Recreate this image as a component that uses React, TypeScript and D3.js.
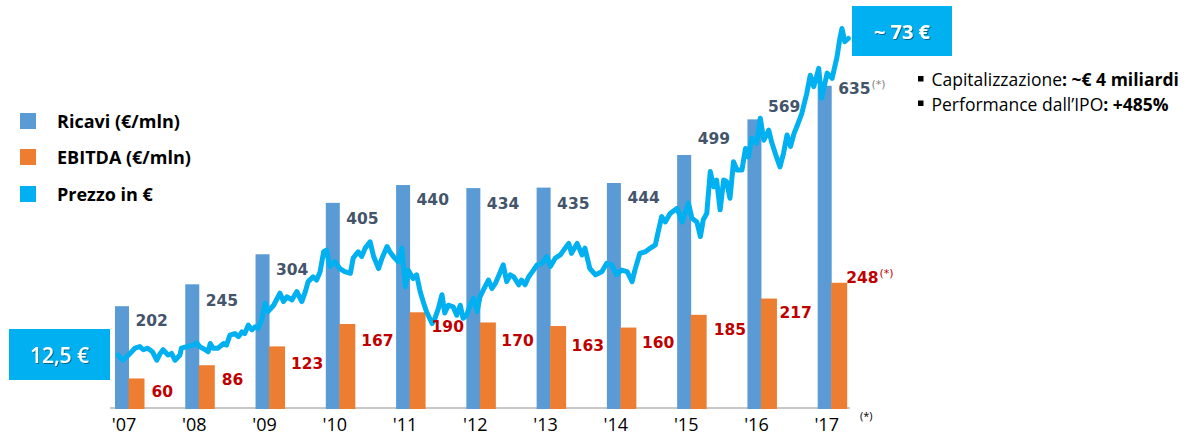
import React from 'react';
import * as d3 from 'd3';

const years = ['2007', '2008', '2009', '2010', '2011', '2012', '2013', '2014', '2015', '2016', '2017'];
const tickLabels = ["'07", "'08", "'09", "'10", "'11", "'12", "'13", "'14", "'15", "'16", "'17"];
const revenue = [202, 245, 304, 405, 440, 434, 435, 444, 499, 569, 635];
const ebitda = [60, 86, 123, 167, 190, 170, 163, 160, 185, 217, 248];

// Share price (EUR), by decimal year
const priceDates = [
  2007.55, 2007.62, 2007.70, 2007.79, 2007.86, 2007.91, 2007.97, 2008.04, 2008.10, 2008.15,
  2008.19, 2008.26, 2008.31, 2008.36, 2008.43, 2008.45, 2008.53, 2008.62, 2008.67, 2008.71,
  2008.79, 2008.83, 2008.86, 2008.90, 2008.97, 2009.05, 2009.09, 2009.14, 2009.21, 2009.26,
  2009.31, 2009.35, 2009.40, 2009.45, 2009.50, 2009.54, 2009.59, 2009.64, 2009.68, 2009.76,
  2009.85, 2009.90, 2009.95, 2010.02, 2010.09, 2010.16, 2010.21, 2010.25, 2010.32, 2010.37,
  2010.42, 2010.47, 2010.51, 2010.56, 2010.63, 2010.70, 2010.77, 2010.85, 2010.89, 2010.96,
  2011.01, 2011.06, 2011.13, 2011.18, 2011.25, 2011.30, 2011.37, 2011.41, 2011.46, 2011.53,
  2011.58, 2011.63, 2011.67, 2011.74, 2011.79, 2011.84, 2011.89, 2011.93, 2012.01, 2012.05,
  2012.10, 2012.15, 2012.19, 2012.24, 2012.31, 2012.36, 2012.41, 2012.45, 2012.50, 2012.55,
  2012.60, 2012.65, 2012.69, 2012.76, 2012.81, 2012.86, 2012.91, 2012.98, 2013.02, 2013.07,
  2013.12, 2013.17, 2013.24, 2013.28, 2013.33, 2013.38, 2013.45, 2013.50, 2013.57, 2013.64,
  2013.69, 2013.76, 2013.83, 2013.90, 2013.95, 2013.99, 2014.07, 2014.14, 2014.18, 2014.25,
  2014.33, 2014.42, 2014.49, 2014.56, 2014.63, 2014.70, 2014.78, 2014.85, 2014.89, 2014.96,
  2015.04, 2015.11, 2015.18, 2015.22, 2015.27, 2015.32, 2015.39, 2015.49, 2015.56, 2015.65,
  2015.70, 2015.77, 2015.82, 2015.86, 2015.91, 2015.96, 2016.01, 2016.05, 2016.10, 2016.15,
  2016.19, 2016.24, 2016.29, 2016.34, 2016.41, 2016.46, 2016.50, 2016.55, 2016.62, 2016.67,
  2016.72, 2016.79, 2016.83, 2016.90, 2016.95, 2017.00, 2017.05, 2017.10, 2017.15, 2017.19,
  2017.26, 2017.33, 2017.38, 2017.43, 2017.50, 2017.54, 2017.62, 2017.69, 2017.76, 2017.80,
  2017.83, 2017.87, 2017.92,
];
const prices = [
  12.5, 11.5, 12.5, 13.8, 14.1, 13.5, 13.8, 13.1, 11.5, 12.8,
  13.5, 12.5, 12.8, 11.5, 12.5, 13.8, 14.1, 14.4, 14.8, 14.1,
  13.5, 13.1, 14.7, 13.8, 13.8, 14.7, 14.4, 16.3, 16.6, 16.0,
  16.9, 16.6, 18.2, 17.3, 17.9, 17.6, 19.2, 22.4, 20.8, 22.0,
  24.3, 22.7, 23.6, 23.0, 24.6, 22.7, 24.6, 26.5, 27.4, 26.8,
  28.4, 32.2, 32.5, 29.4, 30.3, 29.0, 28.4, 28.1, 31.0, 32.2,
  31.3, 32.9, 34.1, 31.3, 29.0, 31.0, 33.2, 32.2, 31.3, 30.3,
  32.9, 25.5, 28.7, 27.1, 27.8, 24.6, 22.4, 20.8, 18.5, 19.5,
  21.4, 24.0, 20.5, 22.0, 21.7, 20.1, 22.0, 19.5, 20.1, 22.0,
  23.3, 20.8, 23.6, 25.5, 26.8, 25.2, 26.2, 28.4, 29.7, 26.5,
  27.8, 27.4, 25.9, 26.8, 25.9, 27.4, 28.7, 29.7, 30.0, 31.3,
  29.4, 31.0, 31.6, 32.9, 33.8, 31.9, 33.8, 31.6, 32.9, 29.0,
  27.8, 28.4, 30.0, 29.7, 27.8, 28.7, 28.4, 26.5, 28.7, 31.9,
  32.2, 32.9, 33.5, 36.0, 38.9, 37.9, 39.5, 40.5, 37.9, 41.5,
  38.6, 37.9, 35.1, 38.3, 39.5, 47.5, 44.6, 45.9, 40.2, 45.9,
  45.6, 42.4, 49.4, 47.8, 47.8, 51.9, 50.3, 53.9, 52.9, 57.7,
  53.5, 55.4, 53.2, 50.3, 48.4, 51.0, 54.5, 52.3, 54.8, 56.1,
  58.6, 62.4, 65.9, 63.7, 67.2, 61.5, 66.3, 65.3, 69.4, 72.9,
  74.8, 72.3, 72.9,
];

const legendItems = ['Ricavi (€/mln)', 'EBITDA (€/mln)', 'Prezzo in €'];
const startPriceLabel = '12,5 €';
const endPriceLabel = '~ 73 €';
const bulletPlain = ['Capitalizzazione', 'Performance dall\u2019IPO'];
const bulletBold = ['~€ 4 miliardi', '+485%'];

// layout offsets for the value labels (label centre relative to bar top)
const revLabelDy = [14, 16, 15, 16, 14, 15, 16, 14, -17, -13, 3];
const ebitdaLabelDy = [12.5, 14, 17.5, 16, 14.5, 17.5, 19.5, 15, 15, 14, -5.5];
const ebitdaLabelDx = [36.5, 36.5, 35.5, 35.5, 35.5, 35, 35, 35, 36.5, 32, 28.5];

const C_BLUE = '#5B9BD5';
const C_ORANGE = '#ED7D31';
const C_PRICE = '#00B0F0';
const C_REVTXT = '#44546A';
const C_EBTXT = '#C00000';
const FONT = "'Open Sans', sans-serif";
const NUMFONT = "'DejaVu Sans', Verdana, sans-serif";

export default function App() {
  const W = 1199, H = 436;
  const baseline = 409;

  const xBand = d3.scaleBand<string>()
    .domain(years)
    .range([115, 115 + 70.27 * 11])
    .paddingInner(0.58)
    .paddingOuter(0.29)
    .align(0);

  const yBar = d3.scaleLinear().domain([0, 800]).range([baseline, baseline - 800 * 0.509]);

  const xTime = d3.scaleLinear().domain([2007.55, 2017.92]).range([118, 848.3]);
  const yPrice = d3.scaleLinear().domain([0, 80]).range([420.5, 420.5 - 80 * 5.24]);

  const line = d3.line<number>()
    .x((_, i) => xTime(priceDates[i]))
    .y((d) => yPrice(d))
    .curve(d3.curveLinear);

  const blueW = 14;
  const orangeX = 13.5;
  const orangeW = 16;
  const legendColors = [C_BLUE, C_ORANGE, C_PRICE];
  const legendY = [121, 157, 194];

  return (
    <svg width={W} height={H} style={{ position: 'absolute', left: 0, top: 0, background: '#fff' }}>
      <defs>
        <filter id="tshadow" x="-20%" y="-20%" width="140%" height="140%">
          <feDropShadow dx="1" dy="1" stdDeviation="0.6" floodColor="#000" floodOpacity="0.45" />
        </filter>
      </defs>

      {/* axis line */}
      <line x1={110} x2={850} y1={408} y2={408} stroke="#C8C8C8" strokeWidth={2} />

      {/* bars */}
      {years.map((y, i) => {
        const x0 = xBand(y)!;
        return (
          <g key={y}>
            <rect x={x0} y={yBar(revenue[i])} width={blueW} height={baseline - yBar(revenue[i])} fill={C_BLUE} />
            <rect x={x0 + orangeX} y={yBar(ebitda[i])} width={orangeW} height={baseline - yBar(ebitda[i])} fill={C_ORANGE} />
          </g>
        );
      })}

      {/* price line */}
      <path d={line(prices) || ''} fill="none" stroke={C_PRICE} strokeWidth={5} strokeLinejoin="round" strokeLinecap="round" />

      {/* value labels */}
      {years.map((y, i) => {
        const x0 = xBand(y)!;
        const last = i === years.length - 1;
        return (
          <g key={'lab' + y} fontFamily={NUMFONT} fontWeight="bold" fontSize={15.5}>
            <text x={x0 + 20.5} y={yBar(revenue[i]) + revLabelDy[i] + 5.6} fill={C_REVTXT}>
              {revenue[i]}
              {last && <tspan fontSize={11} fontWeight="normal" fill="#7F7F7F" dy={-6} dx={1}>(*)</tspan>}
            </text>
            <text x={x0 + ebitdaLabelDx[i]} y={yBar(ebitda[i]) + ebitdaLabelDy[i] + 5.6} fill={C_EBTXT}>
              {ebitda[i]}
              {last && <tspan fontSize={11} fontWeight="normal" fill={C_EBTXT} dy={-6} dx={1}>(*)</tspan>}
            </text>
          </g>
        );
      })}

      {/* x tick labels */}
      {years.map((y, i) => (
        <text key={'t' + y} x={xBand(y)! + 9} y={430.5} textAnchor="middle" fontFamily={FONT} fontSize={18} fill="#000">
          {tickLabels[i]}
        </text>
      ))}
      <text x={860} y={420} fontFamily={FONT} fontSize={11} fill="#000">(*)</text>

      {/* legend */}
      {legendItems.map((t, i) => (
        <g key={t}>
          <rect x={20} y={legendY[i] - 8} width={16} height={16} fill={legendColors[i]} />
          <text x={57} y={legendY[i] + 6.8} fontFamily={FONT} fontWeight="bold" fontSize={18} fill="#000">{t}</text>
        </g>
      ))}

      {/* callouts */}
      <rect x={9} y={329} width={101} height={51} fill={C_PRICE} />
      <text x={59.5} y={363} textAnchor="middle" fontFamily={FONT} fontWeight={600} fontSize={21} fill="#fff" filter="url(#tshadow)">{startPriceLabel}</text>
      <rect x={852} y={6} width={100} height={50} fill={C_PRICE} />
      <text x={902} y={38.5} textAnchor="middle" fontFamily={FONT} fontWeight="bold" fontSize={20} fill="#fff" filter="url(#tshadow)">{endPriceLabel}</text>

      {/* bullets */}
      {bulletPlain.map((t, i) => (
        <g key={t}>
          <rect x={918} y={76 + i * 24.5} width={5.5} height={5.5} fill="#000" />
          <text x={931.5} y={86 + i * 24.5} fontFamily={FONT} fontSize={17.5} fill="#000">
            {t}<tspan fontWeight="bold">: {bulletBold[i]}</tspan>
          </text>
        </g>
      ))}
    </svg>
  );
}
